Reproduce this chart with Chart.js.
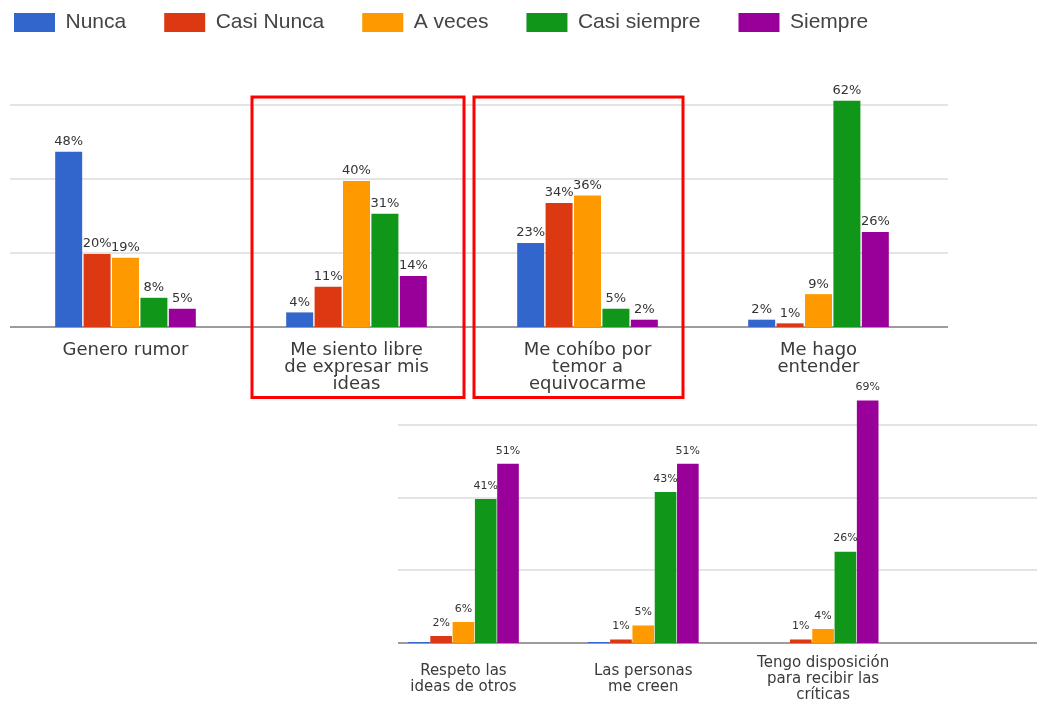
<!DOCTYPE html>
<html>
<head>
<meta charset="utf-8">
<script src="https://cdn.jsdelivr.net/npm/chart.js@4.4.1/dist/chart.umd.min.js"></script>
<style>
  html, body { margin: 0; padding: 0; background: #ffffff; }
  #page { position: relative; width: 1037px; height: 706px; overflow: hidden; background: #ffffff; }
  canvas { position: absolute; }
</style>
</head>
<body>
<div id="page">
  <canvas id="topChart" width="980" height="433" style="left:-24px;top:-26px"></canvas>
  <canvas id="bottomChart" width="1037" height="326" style="left:0px;top:380px"></canvas>
</div>
<script>
// Series (legend) names
const seriesNames = ['Nunca', 'Casi Nunca', 'A veces', 'Casi siempre', 'Siempre'];

// Upper chart
const topCategories = [
    'Genero rumor',
    ['Me siento libre', 'de expresar mis', 'ideas'],
    ['Me cohíbo por', 'temor a', 'equivocarme'],
    ['Me hago', 'entender']
];
const topNunca = [48, 4, 23, 2];
const topCasiNunca = [20, 11, 34, 1];
const topAVeces = [19, 40, 36, 9];
const topCasiSiempre = [8, 31, 5, 62];
const topSiempre = [5, 14, 2, 26];

// Lower chart
const bottomCategories = [
    ['Respeto las', 'ideas de otros'],
    ['Las personas', 'me creen'],
    ['Tengo disposición', 'para recibir las', 'críticas']
];
const bottomNunca = [0.3, 0.3, 0];
const bottomCasiNunca = [2, 1, 1];
const bottomAVeces = [6, 5, 4];
const bottomCasiSiempre = [41, 43, 26];
const bottomSiempre = [51, 51, 69];

const seriesColors = ['#3366cc', '#dc3912', '#ff9900', '#109618', '#990099'];

// Light horizontal grid lines + baseline, drawn wider than the category area
const extGrid = {
    id: 'extGrid',
    beforeDatasetsDraw(chart, args, opts) {
        const ctx = chart.ctx;
        const y = chart.scales.y;
        const area = chart.chartArea;
        const x0 = area.left + opts.extendLeft;
        const x1 = area.right + opts.extendRight;
        ctx.save();
        ctx.lineWidth = 2;
        ctx.strokeStyle = '#e4e4e4';
        for (let v = opts.step; v < y.max; v += opts.step) {
            const py = Math.round(y.getPixelForValue(v));
            ctx.beginPath();
            ctx.moveTo(x0, py);
            ctx.lineTo(x1, py);
            ctx.stroke();
        }
        ctx.strokeStyle = '#9c9c9c';
        const base = Math.round(y.getPixelForValue(0));
        ctx.beginPath();
        ctx.moveTo(x0, base);
        ctx.lineTo(x1, base);
        ctx.stroke();
        ctx.restore();
    }
};

// Percentage labels above bars
const barLabels = {
    id: 'barLabels',
    afterDatasetsDraw(chart, args, opts) {
        const ctx = chart.ctx;
        ctx.save();
        ctx.font = opts.font;
        ctx.fillStyle = opts.color;
        ctx.textAlign = 'center';
        ctx.textBaseline = 'middle';
        chart.data.datasets.forEach((ds, di) => {
            const meta = chart.getDatasetMeta(di);
            meta.data.forEach((bar, i) => {
                const v = ds.data[i];
                if (v < 1) return;
                ctx.fillText(Math.round(v) + '%', bar.x, bar.y - opts.offset);
            });
        });
        ctx.restore();
    }
};

// Red highlight frames around some categories
const frames = {
    id: 'frames',
    afterDraw(chart, args, opts) {
        const ctx = chart.ctx;
        const x = chart.scales.x;
        const y = chart.scales.y;
        ctx.save();
        ctx.strokeStyle = '#ff0000';
        ctx.lineWidth = 3;
        opts.boxes.forEach(b => {
            const cx = x.getPixelForValue(b.index);
            const top = y.getPixelForValue(b.topValue);
            const bottom = chart.chartArea.bottom + b.below;
            ctx.strokeRect(cx + b.left, top, b.right - b.left, bottom - top);
        });
        ctx.restore();
    }
};

function makeDatasets(lists, barPct) {
    return lists.map((data, i) => ({
        label: seriesNames[i],
        data: data,
        backgroundColor: seriesColors[i],
        borderWidth: 0,
        categoryPercentage: barPct[0],
        barPercentage: barPct[1]
    }));
}

new Chart(document.getElementById('topChart'), {
    type: 'bar',
    data: {
        labels: topCategories,
        datasets: makeDatasets([topNunca, topCasiNunca, topAVeces, topCasiSiempre, topSiempre], [0.615, 0.95])
    },
    options: {
        responsive: false,
        animation: false,
        layout: { padding: { left: 0, right: 22, top: 0, bottom: 0 } },
        scales: {
            x: {
                grid: { display: false, drawTicks: false },
                border: { display: false },
                ticks: {
                    padding: 15,
                    color: '#3a3a3a',
                    font: { family: 'DejaVu Sans', size: 18, lineHeight: 0.95 },
                    maxRotation: 0,
                    autoSkip: false
                },
                afterFit: s => { s.height = 80; }
            },
            y: {
                min: 0,
                max: 77.8,
                grid: { display: false, drawTicks: false },
                border: { display: false },
                ticks: { display: false },
                afterFit: s => { s.width = 34; }
            }
        },
        plugins: {
            legend: {
                position: 'top',
                align: 'start',
                labels: {
                    boxWidth: 41,
                    boxHeight: 19,
                    padding: 38,
                    color: '#444444',
                    font: { family: 'Liberation Sans', size: 21 }
                }
            },
            tooltip: { enabled: false },
            extGrid: { step: 20.3, extendLeft: 0, extendRight: 14 },
            barLabels: { font: '13px "DejaVu Sans"', color: '#333333', offset: 10 },
            frames: {
                boxes: [
                    { index: 1, left: -104.5, right: 107.5, topValue: 63, below: 70.5 },
                    { index: 2, left: -113.5, right: 95.5, topValue: 63, below: 70.5 }
                ]
            }
        }
    },
    plugins: [extGrid, barLabels, frames]
});

new Chart(document.getElementById('bottomChart'), {
    type: 'bar',
    data: {
        labels: bottomCategories,
        datasets: makeDatasets([bottomNunca, bottomCasiNunca, bottomAVeces, bottomCasiSiempre, bottomSiempre], [0.62, 0.97])
    },
    options: {
        responsive: false,
        animation: false,
        layout: { padding: { left: 0, right: 124, top: 10, bottom: 0 } },
        scales: {
            x: {
                grid: { display: false, drawTicks: false },
                border: { display: false },
                ticks: {
                    padding: 20.5,
                    color: '#3a3a3a',
                    crossAlign: 'center',
                    font: { family: 'DejaVu Sans', size: 15, lineHeight: 1.07 },
                    maxRotation: 0,
                    autoSkip: false
                },
                afterFit: s => { s.height = 63; }
            },
            y: {
                min: 0,
                max: 72,
                grid: { display: false, drawTicks: false },
                border: { display: false },
                ticks: { display: false },
                afterFit: s => { s.width = 373.5; }
            }
        },
        plugins: {
            legend: { display: false },
            tooltip: { enabled: false },
            extGrid: { step: 20.7, extendLeft: 24.5, extendRight: 124 },
            barLabels: { font: '11px "DejaVu Sans"', color: '#333333', offset: 13 },
            frames: { boxes: [] }
        }
    },
    plugins: [extGrid, barLabels]
});
</script>
</body>
</html>
